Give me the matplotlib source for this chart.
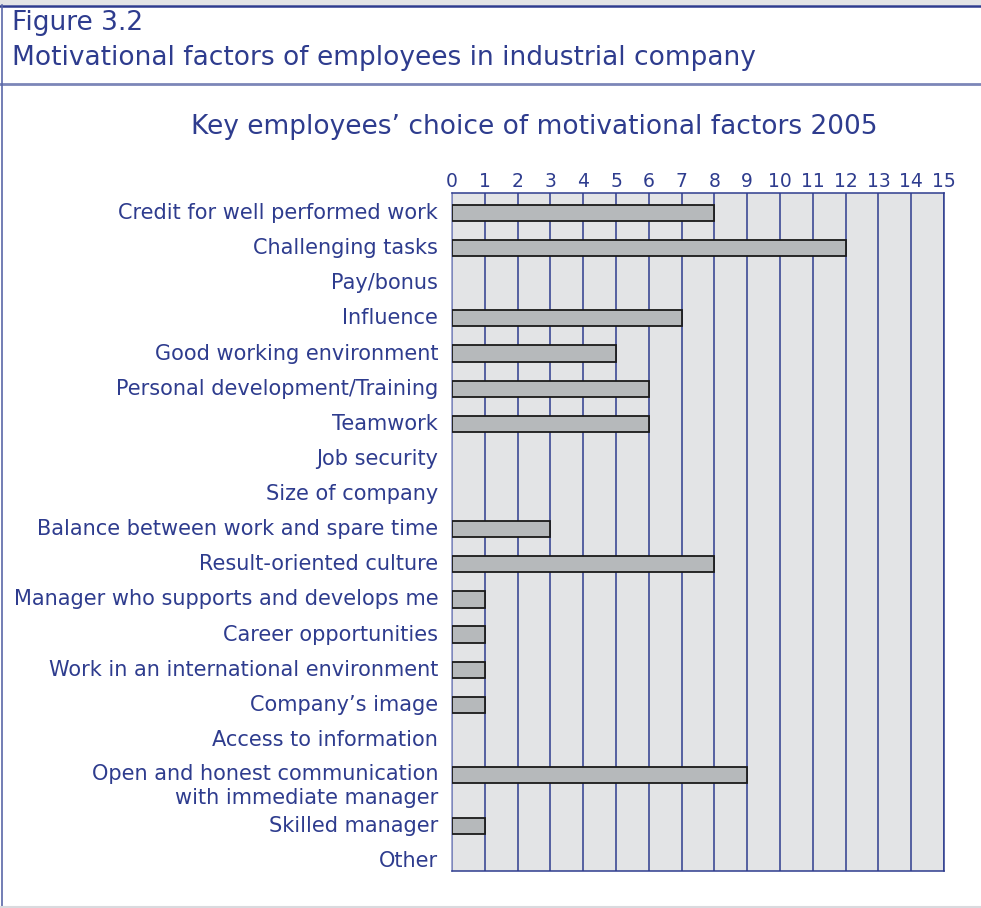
import matplotlib.pyplot as plt
import matplotlib.lines as mlines
import matplotlib.patches as mpatches
import numpy as np

factors = ['Credit for well performed work', 'Challenging tasks', 'Pay/bonus',
           'Influence', 'Good working environment', 'Personal development/Training',
           'Teamwork', 'Job security', 'Size of company',
           'Balance between work and spare time', 'Result-oriented culture',
           'Manager who supports and develops me', 'Career opportunities',
           'Work in an international environment', "Company\u2019s image",
           'Access to information',
           'Open and honest communication\nwith immediate manager',
           'Skilled manager', 'Other']
counts = [8, 12, 0, 7, 5, 6, 6, 0, 0, 3, 8, 1, 1, 1, 1, 0, 9, 1, 0]
ticks = list(range(0, 16))

blue = '#2e3c8e'
W, H = 981, 908

fig = plt.figure(figsize=(9.81, 9.08), dpi=100)

# header frame
fig.add_artist(mpatches.Rectangle((0, 1 - 5/H), 1, 5/H, transform=fig.transFigure,
                                  color='#e3e4e6', lw=0))
fig.add_artist(mlines.Line2D([0, 1], [1 - 5.5/H] * 2, color=blue, lw=1.8))
fig.add_artist(mlines.Line2D([0, 1], [1 - 84/H] * 2, color='#7c86b8', lw=2))
fig.add_artist(mlines.Line2D([1.5/W] * 2, [1 - 906/H, 1 - 5/H], color='#5a67a8', lw=1.2))
fig.add_artist(mlines.Line2D([0, 1], [1 - 906.5/H] * 2, color='#d9dade', lw=1.5))

fig.text(12/W, 1 - 23/H, 'Figure 3.2', color=blue, fontsize=19, va='center', ha='left')
fig.text(12/W, 1 - 58/H, 'Motivational factors of employees in industrial company',
         color=blue, fontsize=19, va='center', ha='left')
fig.text(534/W, 1 - 127/H, 'Key employees\u2019 choice of motivational factors 2005',
         color=blue, fontsize=19, va='center', ha='center')

# rows with two-line labels get a bit more room below
nlines = [f.count('\n') + 1 for f in factors]
y = np.concatenate([[0], np.cumsum([1 + 0.45 * (n - 1) for n in nlines[:-1]])])

ax = fig.add_axes([452/W, 1 - 871/H, 492/W, 678/H])
ax.set_facecolor('#e3e4e6')
mask = np.array(counts) > 0
ax.barh(y[mask], np.array(counts)[mask], height=0.46, color='#b6b9bb',
        edgecolor='#1a1a1a', lw=1.3, zorder=3)
ax.set_xlim(0, 15)
ax.set_ylim(y[-1] + 0.28, -0.57)
ax.set_xticks(ticks)
ax.xaxis.tick_top()
ax.tick_params(axis='x', length=0, labelsize=13.5, labelcolor=blue, pad=1.5)
ax.set_yticks([])

trans = ax.get_yaxis_transform()
for yi, name, n in zip(y, factors, nlines):
    if n == 1:
        ax.text(-0.028, yi, name, transform=trans, ha='right', va='center',
                fontsize=15, color=blue)
    else:
        ax.text(-0.028, yi - 0.33, name, transform=trans, ha='right', va='top',
                fontsize=15, color=blue, linespacing=1.25)

ax.grid(axis='x', color=blue, lw=1.1, zorder=1)
for s in ax.spines.values():
    s.set_color(blue)
    s.set_linewidth(1.1)
ax.spines['left'].set_color('#8a92c4')

fig.savefig('out.png', dpi=100)
